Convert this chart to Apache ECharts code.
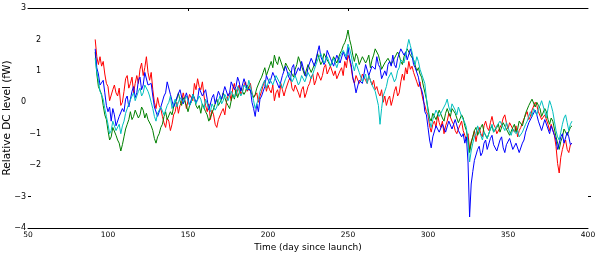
<!DOCTYPE html>
<html><head><meta charset="utf-8">
<script src="https://cdn.jsdelivr.net/npm/echarts@6/dist/echarts.min.js"></script>
<style>html,body{margin:0;padding:0;background:#fff}#c{width:600px;height:255px}</style>
</head><body><div id="c"></div>
<script>
// sampling grid: one value per day from day 92
const dayStart = 92, dayStep = 1;
const xTicks = [50,100,150,200,250,300,350,400];
const yTicksOuter = [3,0,-3,-4];
const yTicksInner = [2,1,-1,-2];

const red = [
2.0,1.45,1.2,1.45,1.15,1.3,0.9,0.6,0.5,0.05,
0.1,0.4,0.55,0.3,0.2,0.45,-0.1,0.0,0.35,0.75,
0.85,0.45,0.6,0.8,0.3,0.6,0.85,0.6,1.05,1.25,
0.85,1.1,1.45,0.95,0.7,0.95,0.4,0.0,-0.2,0.15,
-0.1,-0.2,-0.45,-0.65,-0.8,-0.5,-0.6,-0.9,-0.7,-0.4,
-0.3,0.0,-0.35,-0.1,0.0,0.3,0.1,-0.2,0.05,0.25,
0.3,0.05,0.6,0.4,0.75,0.5,0.4,0.65,0.2,-0.1,
-0.3,-0.05,-0.55,-0.25,-0.4,-0.7,-0.8,-0.55,-0.5,-0.3,
-0.2,-0.4,0.0,0.2,0.3,0.05,0.45,0.6,0.2,0.4,
0.55,0.25,0.35,0.55,0.65,0.35,0.45,0.6,0.3,0.15,
0.1,0.3,0.0,0.2,0.35,0.55,0.7,0.35,0.55,0.4,
0.3,0.55,0.05,0.3,0.4,0.15,0.6,0.4,0.2,0.4,
0.45,0.7,0.8,0.45,0.35,0.55,0.6,0.3,0.15,0.4,
0.5,0.15,0.3,0.5,0.6,0.8,0.9,0.55,0.7,0.95,
1.0,0.7,0.85,1.1,1.2,0.9,0.9,1.15,1.15,0.85,
1.0,0.75,0.7,1.0,1.1,0.85,1.3,1.1,1.5,1.35,
1.1,0.75,0.6,0.85,0.9,0.6,0.7,0.9,0.95,0.7,
0.6,0.85,0.9,0.55,0.7,0.4,0.5,0.3,0.2,0.4,
0.0,0.2,-0.1,0.1,0.2,-0.1,0.1,0.35,0.5,0.2,
0.3,0.65,0.9,0.7,1.1,0.9,1.3,1.05,1.15,0.95,
0.9,0.65,0.5,0.65,0.3,0.05,-0.1,-0.3,-0.4,-0.75,
-0.95,-0.7,-0.6,-0.8,-0.4,-0.65,-0.8,-0.6,-1.0,-0.75,
-0.6,-0.35,-0.35,-0.6,-0.7,-0.9,-1.0,-0.85,-0.8,-0.6,
-0.9,-1.05,-1.2,-1.0,-1.5,-1.25,-1.1,-0.9,-1.25,-0.95,
-0.8,-1.0,-1.1,-0.75,-0.6,-0.8,-0.9,-0.65,-0.45,-0.7,
-0.8,-1.0,-1.05,-0.8,-0.7,-0.5,-0.4,-0.65,-0.85,-0.65,
-0.6,-0.85,-0.95,-0.75,-1.1,-0.9,-0.8,-0.65,-0.6,-0.4,
-0.3,-0.55,-0.45,-0.25,-0.2,0.0,-0.1,-0.3,-0.35,-0.55,
-0.6,-0.4,-0.4,-0.7,-0.9,-0.7,-0.7,-1.05,-1.4,-1.95,
-2.25,-1.75,-1.5,-1.3,-1.2,-1.5,-1.6,-1.35,-1.3];

const blue = [
1.7,1.1,0.9,0.55,0.6,0.7,0.3,-0.1,-0.3,-0.15,
-0.6,-0.2,-0.4,-0.75,-0.8,-0.45,-0.5,-0.2,-0.3,0.1,
0.2,-0.15,-0.1,0.35,0.5,0.15,0.3,0.7,0.8,0.4,
0.55,0.95,0.9,0.55,0.5,0.6,0.2,-0.15,-0.1,-0.45,
-0.5,-0.15,-0.2,0.2,0.3,0.65,0.6,0.25,0.2,-0.15,
-0.2,0.15,0.1,0.4,0.35,-0.05,0.0,0.3,0.25,-0.1,
-0.1,0.25,0.3,0.0,0.1,0.45,0.5,0.2,0.3,0.4,
0.1,-0.25,-0.2,0.15,0.25,-0.05,0.0,0.35,0.4,0.1,
0.15,0.5,0.55,0.2,0.3,0.65,0.7,0.4,0.5,0.8,
0.65,0.35,0.4,0.75,0.75,0.4,0.35,0.4,0.0,-0.2,
-0.45,-0.05,-0.3,0.1,0.2,0.15,0.5,0.85,0.9,0.6,
0.6,0.95,1.0,0.7,0.75,0.45,0.5,0.85,0.9,1.15,
1.1,0.8,0.7,1.1,1.2,0.85,0.85,1.1,1.0,1.3,
1.25,0.9,0.8,1.1,1.05,1.4,1.4,1.15,1.2,1.6,
1.8,1.45,1.5,1.2,1.3,1.65,1.7,1.4,1.4,1.15,
1.2,1.5,1.55,1.25,1.3,1.6,1.6,1.35,1.75,1.4,
1.2,0.8,0.6,0.3,0.35,0.7,0.7,0.6,0.9,1.2,
1.15,0.85,0.8,1.15,1.2,1.05,1.45,1.2,1.1,0.75,
0.7,1.0,0.85,1.2,1.3,1.15,1.5,1.2,1.1,1.4,
1.35,1.7,1.75,1.5,1.6,1.35,1.4,1.7,1.5,1.2,
1.1,1.05,0.8,0.5,0.4,0.2,-0.3,-0.4,-0.8,-1.2,
-1.45,-1.1,-1.1,-0.75,-0.7,-0.95,-1.0,-0.7,-0.65,-0.95,
-0.9,-0.6,-0.55,-0.85,-0.8,-0.55,-0.6,-0.9,-0.85,-1.1,
-1.0,-1.3,-1.1,-1.9,-3.65,-2.6,-2.2,-1.85,-1.9,-1.5,
-1.4,-1.7,-1.6,-1.3,-1.2,-1.5,-1.45,-1.15,-1.05,-1.35,
-1.3,-1.55,-1.5,-1.2,-1.1,-1.45,-1.6,-1.35,-1.4,-1.15,
-1.2,-1.5,-1.55,-1.3,-1.35,-1.6,-1.65,-1.3,-1.2,-0.95,
-0.9,-0.65,-0.7,-0.45,-0.5,-0.25,-0.4,-0.6,-0.6,-0.9,
-0.85,-0.55,-0.55,-0.85,-1.0,-0.75,-0.8,-1.05,-1.2,-1.5,
-1.45,-1.1,-1.0,-1.3,-1.25,-0.95,-1.1,-1.35,-1.3];

const green = [
1.6,0.9,0.5,0.45,0.25,-0.1,-0.4,-0.55,-0.9,-1.2,
-1.1,-0.8,-0.8,-1.05,-1.2,-1.3,-1.55,-1.35,-1.1,-0.85,
-0.7,-0.55,-0.3,-0.55,-0.45,-0.25,-0.2,-0.5,-0.4,-0.15,
-0.25,-0.5,-0.35,-0.55,-0.6,-0.75,-0.9,-1.15,-1.3,-1.1,
-1.0,-0.8,-0.7,-0.45,-0.3,-0.55,-0.6,-0.3,-0.4,-0.15,
-0.2,0.1,0.3,0.05,-0.1,0.15,0.2,-0.1,-0.3,-0.1,
0.0,0.25,0.15,-0.1,-0.2,-0.1,-0.35,-0.05,-0.1,-0.3,
-0.4,-0.6,-0.65,-0.35,-0.3,-0.05,0.1,-0.1,-0.15,0.1,
0.3,0.15,0.0,-0.1,-0.2,0.05,0.25,0.1,0.4,0.15,
0.2,0.45,0.5,0.25,0.35,0.55,0.6,0.35,0.4,0.15,
0.25,0.45,0.5,0.7,0.8,0.95,1.1,0.85,0.9,1.15,
1.3,1.1,1.5,1.3,1.2,1.45,1.4,1.15,1.0,1.25,
1.3,1.05,1.1,0.9,0.8,1.05,1.2,1.45,1.4,1.15,
1.1,0.85,0.9,1.2,1.25,0.95,1.0,1.2,1.3,1.55,
1.5,1.2,1.3,1.55,1.6,1.35,1.4,1.15,1.2,1.45,
1.5,1.25,1.3,1.55,1.65,1.8,1.9,2.05,2.3,2.0,
1.8,1.5,1.3,1.55,1.45,1.2,1.2,1.45,1.5,1.25,
1.35,1.5,1.1,1.35,1.5,1.7,1.65,1.5,1.3,1.05,
1.0,1.25,1.2,1.4,1.45,1.2,1.15,1.4,1.35,1.6,
1.5,1.3,1.2,1.45,1.5,1.7,1.75,1.5,1.55,1.35,
1.3,1.0,1.1,0.9,0.8,0.55,0.5,0.1,-0.2,-0.5,
-0.6,-0.35,-0.3,-0.55,-0.5,-0.25,-0.3,-0.5,-0.6,-0.35,
-0.2,-0.35,-0.45,-0.2,-0.15,-0.35,-0.4,-0.65,-0.6,-0.4,
-0.5,-0.75,-0.9,-1.2,-1.6,-1.3,-1.1,-0.9,-0.8,-1.05,
-1.0,-0.8,-0.7,-0.95,-0.9,-1.15,-1.1,-0.85,-0.75,-0.95,
-1.0,-0.8,-0.7,-0.95,-0.9,-0.65,-0.6,-0.85,-0.8,-1.05,
-1.0,-0.8,-0.7,-0.95,-0.85,-0.6,-0.6,-0.75,-0.55,-0.35,
-0.3,-0.1,-0.1,0.1,0.05,-0.15,0.0,-0.1,-0.2,-0.45,
-0.4,-0.2,-0.3,-0.55,-0.7,-0.5,-0.6,-0.85,-1.1,-1.3,
-1.5,-1.25,-1.1,-0.85,-0.8,-1.05,-1.0,-0.8,-0.75];

const cyan = [
1.4,0.95,0.7,0.35,0.4,0.1,-0.2,-0.45,-0.7,-1.0,
-0.9,-0.6,-0.6,-0.9,-0.85,-0.7,-1.0,-0.75,-0.6,-0.35,
-0.3,-0.05,0.0,0.2,0.3,0.05,0.1,0.35,0.45,0.2,
0.3,0.55,0.6,0.35,0.2,0.0,-0.2,-0.45,-0.6,-0.35,
-0.4,-0.15,-0.1,-0.4,-0.35,-0.1,0.0,0.2,-0.2,-0.05,
0.1,-0.15,-0.1,0.15,0.2,0.0,-0.05,0.2,0.15,-0.1,
0.0,0.25,0.2,-0.05,-0.1,0.2,0.1,-0.1,-0.2,0.1,
0.05,-0.2,-0.3,-0.05,0.0,-0.25,-0.15,0.05,0.2,-0.05,
0.05,0.25,0.3,0.05,0.1,0.35,0.4,0.15,0.25,0.5,
0.45,0.2,0.3,0.55,0.55,0.4,0.7,0.5,0.3,0.05,
-0.2,-0.05,0.1,0.35,0.4,0.6,0.7,0.45,0.5,0.75,
0.8,0.55,0.6,0.85,0.9,0.65,0.7,0.45,0.5,0.75,
0.75,0.95,0.9,0.65,0.6,0.85,0.8,0.55,0.65,0.85,
0.9,0.65,0.7,0.95,1.0,0.75,0.8,1.05,1.1,1.35,
1.3,1.55,1.5,1.25,1.2,1.45,1.4,1.15,1.1,1.4,
1.35,1.1,1.15,1.45,1.4,1.65,1.6,1.45,1.85,1.7,
1.5,1.2,1.0,1.25,1.2,0.95,0.9,0.65,0.75,0.9,
0.6,0.85,0.8,0.55,0.5,0.35,0.3,-0.1,-0.7,-0.2,
0.2,0.35,0.5,0.75,0.7,0.95,0.9,0.65,0.75,1.0,
1.1,1.35,1.4,1.25,1.5,1.75,2.0,1.8,1.6,1.35,
1.2,1.45,1.3,1.05,0.9,0.85,0.6,0.15,-0.3,-0.6,
-0.8,-0.55,-0.5,-0.25,-0.2,-0.45,-0.5,-0.25,-0.3,-0.05,
0.1,-0.15,-0.3,-0.05,0.0,-0.25,-0.4,-0.15,-0.2,-0.45,
-0.45,-0.65,-0.8,-1.3,-1.9,-1.55,-1.3,-1.1,-1.0,-0.75,
-0.8,-1.05,-1.2,-0.95,-0.9,-1.15,-1.1,-0.85,-0.7,-0.95,
-1.0,-0.75,-0.8,-0.6,-0.55,-0.8,-0.9,-0.65,-0.7,-0.95,
-1.05,-0.85,-0.8,-1.0,-0.9,-1.1,-1.15,-0.95,-0.9,-0.7,
-0.6,-0.45,-0.3,-0.45,-0.2,-0.3,-0.4,-0.2,-0.1,0.05,
0.0,-0.3,-0.5,-0.2,0.05,-0.1,-0.3,-0.6,-0.9,-1.1,
-1.2,-0.95,-0.7,-0.5,-0.4,-0.65,-0.9,-0.7,-0.6];

function pts(vals){ return vals.map((v,i)=>[dayStart + dayStep*i, v]); }
const minus = v => String(v).replace('-', '\u2212');
const FONT = 'DejaVu Sans';

const chart = echarts.init(document.getElementById('c'), null, {renderer:'canvas'});
const mk = (name, vals, color) => ({
  name, type:'line', data: pts(vals), showSymbol:false, symbol:'none',
  lineStyle:{color, width:1}, itemStyle:{color}, silent:true, animation:false, z:2
});
chart.setOption({
  animation:false,
  backgroundColor:'#fff',
  grid:{left:28, right:12, top:8, bottom:27, containLabel:false, outerBoundsMode:'none'},
  xAxis:[{
    type:'value', min:50, max:400, interval:50, position:'bottom',
    axisLine:{show:true, onZero:false, lineStyle:{color:'#000', width:1}},
    axisTick:{show:false},
    splitLine:{show:false},
    axisLabel:{customValues:xTicks, color:'#000', fontSize:7.5, fontFamily:FONT, margin:3, showMinLabel:true, showMaxLabel:true},
    name:'Time (day since launch)', nameLocation:'middle', nameGap:15, nameMoveOverlap:false,
    nameTextStyle:{color:'#000', fontSize:9, fontFamily:FONT}
  },{
    type:'value', min:50, max:400, interval:50, position:'top',
    axisLine:{show:true, onZero:false, lineStyle:{color:'#000', width:1}},
    axisTick:{show:true, inside:true, length:3, customValues:[150,250], lineStyle:{color:'#000'}},
    axisLabel:{show:false}, splitLine:{show:false}
  }],
  yAxis:[{
    type:'value', min:-4, max:3, interval:1, position:'left',
    axisLine:{show:false, onZero:false},
    axisTick:{show:true, inside:true, length:3, customValues:[-3], lineStyle:{color:'#000'}},
    splitLine:{show:false},
    axisLabel:{customValues:yTicksOuter, formatter:minus, color:'#000', fontSize:8, fontFamily:FONT, margin:2},
    name:'Relative DC level (fW)', nameLocation:'middle', nameGap:15, nameRotate:90, nameMoveOverlap:false,
    nameTextStyle:{color:'#000', fontSize:10.5, fontFamily:FONT}
  },{
    type:'value', min:-4, max:3, interval:1, position:'left', offset:-15,
    axisLine:{show:false, onZero:false}, axisTick:{show:false}, splitLine:{show:false},
    axisLabel:{customValues:yTicksInner, formatter:minus, color:'#000', fontSize:8, fontFamily:FONT, margin:2}
  },{
    type:'value', min:-4, max:3, interval:1, position:'right',
    axisLine:{show:false, onZero:false}, splitLine:{show:false},
    axisTick:{show:true, inside:false, length:3, customValues:[-3], lineStyle:{color:'#000'}},
    axisLabel:{show:false}
  }],
  series:[
    mk('red', red, '#ff0000'),
    mk('green', green, '#008000'),
    mk('blue', blue, '#0000ff'),
    mk('cyan', cyan, '#00bfbf')
  ]
});
</script></body></html>
